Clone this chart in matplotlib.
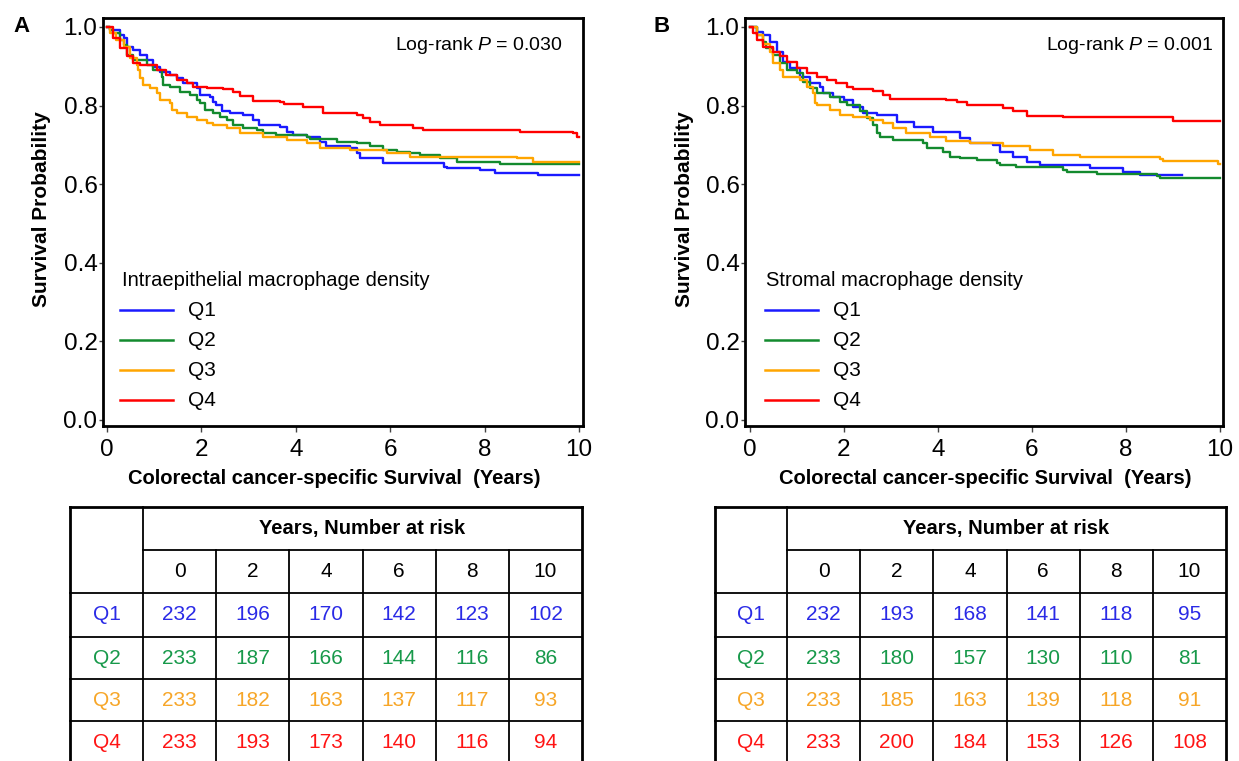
import matplotlib
matplotlib.use('Agg')
import matplotlib.pyplot as plt

plt.rcParams['font.family'] = ['Liberation Sans', 'DejaVu Sans']
plt.rcParams['mathtext.fontset'] = 'custom'
plt.rcParams['mathtext.rm'] = 'Liberation Sans'
plt.rcParams['mathtext.it'] = 'Liberation Sans:italic'

# ---------------- data ----------------
groups = ['Q1', 'Q2', 'Q3', 'Q4']
years = [0, 2, 4, 6, 8, 10]
yticks = [0.0, 0.2, 0.4, 0.6, 0.8, 1.0]

# Panel A: intraepithelial macrophage density (step times, survival)
tA_Q1 = [0, 0.06, 0.28, 0.35, 0.42, 0.56, 0.70, 0.84, 0.98, 1.12, 1.33, 1.48, 1.62, 1.90, 1.97, 2.18,
         2.25, 2.32, 2.43, 2.61, 2.89, 3.10, 3.21, 3.67, 3.81, 3.95, 4.23, 4.51, 4.65, 5.15, 5.29,
         5.36, 5.85, 7.13, 7.20, 7.90, 8.22, 9.14]
sA_Q1 = [1.0, 0.992, 0.980, 0.971, 0.950, 0.941, 0.929, 0.916, 0.899, 0.886, 0.878, 0.869, 0.857, 0.844,
         0.827, 0.823, 0.810, 0.802, 0.785, 0.780, 0.776, 0.763, 0.751, 0.746, 0.734, 0.725, 0.721,
         0.708, 0.696, 0.691, 0.679, 0.666, 0.653, 0.645, 0.640, 0.636, 0.628, 0.623]
tA_Q2 = [0, 0.06, 0.13, 0.28, 0.35, 0.42, 0.56, 0.84, 0.98, 1.16, 1.19, 1.33, 1.55, 1.76, 1.90, 1.97,
         2.08, 2.25, 2.39, 2.54, 2.68, 2.89, 3.17, 3.31, 3.59, 4.23, 4.30, 4.87, 5.29, 5.57, 5.85,
         6.14, 6.42, 6.63, 7.06, 7.41, 8.33]
sA_Q2 = [1.0, 0.992, 0.984, 0.967, 0.954, 0.929, 0.916, 0.903, 0.891, 0.874, 0.852, 0.848, 0.835, 0.827,
         0.814, 0.806, 0.789, 0.780, 0.772, 0.763, 0.751, 0.742, 0.738, 0.729, 0.725, 0.721, 0.715,
         0.708, 0.704, 0.696, 0.687, 0.683, 0.679, 0.674, 0.666, 0.657, 0.651]
tA_Q3 = [0, 0.06, 0.20, 0.35, 0.49, 0.63, 0.66, 0.70, 0.77, 0.91, 1.05, 1.12, 1.33, 1.37, 1.48, 1.69,
         1.90, 2.11, 2.25, 2.54, 2.82, 3.31, 3.81, 4.23, 4.51, 5.15, 5.93, 6.42, 8.68, 9.03]
sA_Q3 = [1.0, 0.984, 0.967, 0.950, 0.920, 0.903, 0.891, 0.869, 0.852, 0.844, 0.831, 0.814, 0.806, 0.789,
         0.780, 0.772, 0.763, 0.755, 0.751, 0.742, 0.729, 0.721, 0.712, 0.704, 0.691, 0.687, 0.679,
         0.670, 0.666, 0.657]
tA_Q4 = [0, 0.13, 0.28, 0.42, 0.56, 0.70, 1.05, 1.26, 1.48, 1.69, 1.83, 2.11, 2.46, 2.68, 2.82, 3.10,
         3.67, 3.74, 4.16, 4.58, 5.29, 5.43, 5.57, 5.78, 6.49, 6.70, 8.75, 9.88, 9.95]
sA_Q4 = [1.0, 0.971, 0.946, 0.925, 0.908, 0.903, 0.891, 0.878, 0.865, 0.857, 0.848, 0.846, 0.842, 0.835,
         0.824, 0.812, 0.810, 0.803, 0.797, 0.780, 0.776, 0.768, 0.757, 0.751, 0.742, 0.738, 0.734,
         0.729, 0.721]
endA = [10.0, 10.0, 10.0, 10.0]

# Panel B: stromal macrophage density
tB_Q1 = [0, 0.14, 0.28, 0.43, 0.57, 0.71, 0.85, 1.06, 1.28, 1.49, 1.56, 1.77, 1.99, 2.20, 2.41, 2.70,
         3.12, 3.48, 3.90, 4.47, 4.68, 5.18, 5.32, 5.60, 5.89, 6.17, 7.23, 7.94, 8.30]
sB_Q1 = [1.0, 0.988, 0.980, 0.963, 0.937, 0.912, 0.895, 0.874, 0.857, 0.848, 0.831, 0.823, 0.814, 0.797,
         0.780, 0.776, 0.759, 0.746, 0.734, 0.717, 0.704, 0.700, 0.683, 0.670, 0.657, 0.649, 0.640,
         0.632, 0.623]
tB_Q2 = [0, 0.14, 0.28, 0.35, 0.50, 0.64, 0.78, 0.99, 1.13, 1.28, 1.42, 1.70, 1.91, 2.06, 2.34, 2.48,
         2.62, 2.70, 2.77, 3.05, 3.69, 3.76, 4.11, 4.26, 4.47, 4.82, 5.25, 5.32, 5.67, 6.67, 6.74,
         7.38, 8.65, 8.72]
sB_Q2 = [1.0, 0.980, 0.963, 0.946, 0.929, 0.908, 0.891, 0.882, 0.861, 0.844, 0.831, 0.823, 0.810, 0.802,
         0.785, 0.768, 0.751, 0.729, 0.721, 0.712, 0.704, 0.691, 0.683, 0.670, 0.666, 0.662, 0.653,
         0.649, 0.645, 0.636, 0.630, 0.625, 0.621, 0.617]
tB_Q3 = [0, 0.14, 0.28, 0.43, 0.50, 0.64, 0.71, 1.06, 1.21, 1.35, 1.38, 1.42, 1.70, 1.91, 2.20, 2.55,
         2.84, 3.05, 3.33, 3.83, 4.18, 4.68, 5.39, 5.96, 6.45, 7.02, 8.72, 8.79, 9.96]
sB_Q3 = [1.0, 0.980, 0.958, 0.937, 0.908, 0.891, 0.874, 0.865, 0.848, 0.831, 0.806, 0.802, 0.789, 0.776,
         0.772, 0.763, 0.755, 0.742, 0.729, 0.721, 0.710, 0.704, 0.696, 0.687, 0.674, 0.668, 0.664,
         0.659, 0.652]
tB_Q4 = [0, 0.07, 0.14, 0.28, 0.50, 0.64, 0.78, 0.99, 1.21, 1.42, 1.63, 1.84, 2.06, 2.20, 2.62, 2.84,
         2.98, 4.18, 4.40, 4.61, 5.39, 5.60, 5.89, 6.67, 9.01]
sB_Q4 = [1.0, 0.984, 0.967, 0.950, 0.937, 0.925, 0.912, 0.895, 0.882, 0.874, 0.865, 0.857, 0.848, 0.842,
         0.837, 0.827, 0.818, 0.814, 0.808, 0.801, 0.793, 0.785, 0.774, 0.770, 0.761]
endB = [9.2, 10.0, 10.0, 10.0]

riskA = {'Q1': [232, 196, 170, 142, 123, 102],
         'Q2': [233, 187, 166, 144, 116, 86],
         'Q3': [233, 182, 163, 137, 117, 93],
         'Q4': [233, 193, 173, 140, 116, 94]}
riskB = {'Q1': [232, 193, 168, 141, 118, 95],
         'Q2': [233, 180, 157, 130, 110, 81],
         'Q3': [233, 185, 163, 139, 118, 91],
         'Q4': [233, 200, 184, 153, 126, 108]}

line_colors = ['#1a1aff', '#138a2e', '#ffa500', '#ff0000']
text_colors = ['#2a2ae6', '#17994a', '#f7a628', '#ff1414']

# ---------------- figure ----------------
W, H = 1239, 761
fig = plt.figure(figsize=(W / 100, H / 100), dpi=100)


def px_rect(l, r, t, b):
    return [l / W, 1 - b / H, (r - l) / W, (b - t) / H]


def km_axes(rect, xlim, curves, ends):
    ax = fig.add_axes(rect)
    for (t, s), e, c in zip(curves, ends, line_colors):
        ax.step(list(t) + [e], list(s) + [s[-1]], where='post', color=c, lw=1.7, zorder=3)
    ax.set_xlim(*xlim)
    ax.set_ylim(-0.0153, 1.0229)
    ax.set_xticks(years)
    ax.set_yticks(yticks)
    ax.set_yticklabels(['%.1f' % v for v in yticks])
    for sp in ax.spines.values():
        sp.set_linewidth(2.0)
    ax.tick_params(axis='x', direction='out', length=4.5, width=1.0, labelsize=17.5, pad=5,
                   color='#444444')
    ax.tick_params(axis='y', direction='out', length=3, width=1.0, labelsize=17.5, pad=1,
                   color='#444444')
    return ax


axA = km_axes(px_rect(103, 583, 18, 426), (-0.0847, 10.085),
              [(tA_Q1, sA_Q1), (tA_Q2, sA_Q2), (tA_Q3, sA_Q3), (tA_Q4, sA_Q4)], endA)
axB = km_axes(px_rect(745, 1223, 18, 426), (-0.106, 10.064),
              [(tB_Q1, sB_Q1), (tB_Q2, sB_Q2), (tB_Q3, sB_Q3), (tB_Q4, sB_Q4)], endB)

# overlay in pixel coordinates for annotations and tables
ov = fig.add_axes([0, 0, 1, 1], zorder=5)
ov.set_xlim(0, W)
ov.set_ylim(H, 0)
ov.axis('off')
ov.patch.set_alpha(0)

# panel letters
ov.text(22, 27, 'A', fontsize=16, fontweight='bold', ha='center', va='center')
ov.text(662, 27, 'B', fontsize=16, fontweight='bold', ha='center', va='center')

# axis labels
for x in (42, 684):
    ov.text(x, 209, 'Survival Probability', fontsize=15, fontweight='bold', rotation=90,
            ha='center', va='center')
for x in (334, 985):
    ov.text(x, 479, 'Colorectal cancer-specific Survival  (Years)', fontsize=14.5,
            fontweight='bold', ha='center', va='center')

# log-rank
ov.text(563, 45, 'Log-rank $P$ = 0.030', fontsize=14, ha='right', va='center')
ov.text(1213, 45, 'Log-rank $P$ = 0.001', fontsize=14, ha='right', va='center')

# legends
def legend(x_title, x_line0, x_line1, x_lab, title):
    ov.text(x_title, 280, title, fontsize=14.5, ha='left', va='center')
    for i, (g, c) in enumerate(zip(groups, line_colors)):
        y = 310 + 30 * i
        ov.plot([x_line0, x_line1], [y, y], color=c, lw=1.8)
        ov.text(x_lab, y, g, fontsize=15, ha='left', va='center')


legend(122, 120, 173, 188, 'Intraepithelial macrophage density')
legend(766, 765, 818, 833, 'Stromal macrophage density')

# number-at-risk tables
rows_y = [507, 550, 593, 637, 679, 721, 764]


def table(left, div, right, risk):
    cols = [div + i * (right - div) / 6 for i in range(7)]
    top, bot = rows_y[0], rows_y[-1]
    kw_o = dict(color='black', lw=2.0, solid_capstyle='projecting', clip_on=False)
    kw_i = dict(color='black', lw=1.3, clip_on=False)
    ov.plot([left, right], [top, top], **kw_o)
    ov.plot([left, left], [top, bot], **kw_o)
    ov.plot([right, right], [top, bot], **kw_o)
    ov.plot([left, right], [bot, bot], **kw_o)
    ov.plot([div, div], [top, bot], **kw_i)
    ov.plot([div, right], [rows_y[1], rows_y[1]], **kw_i)
    for x in cols[1:-1]:
        ov.plot([x, x], [rows_y[1], bot], **kw_i)
    for y in rows_y[2:-1]:
        ov.plot([left, right], [y, y], **kw_i)
    ov.text((div + right) / 2, (rows_y[0] + rows_y[1]) / 2, 'Years, Number at risk',
            fontsize=14.5, fontweight='bold', ha='center', va='center')
    for j, yr in enumerate(years):
        ov.text((cols[j] + cols[j + 1]) / 2, (rows_y[1] + rows_y[2]) / 2, str(yr),
                fontsize=15, ha='center', va='center')
    for i, (g, c) in enumerate(zip(groups, text_colors)):
        yc = (rows_y[2 + i] + rows_y[3 + i]) / 2
        ov.text((left + div) / 2, yc, g, fontsize=15, color=c, ha='center', va='center')
        for j, n in enumerate(risk[g]):
            ov.text((cols[j] + cols[j + 1]) / 2, yc, str(n), fontsize=15, color=c,
                    ha='center', va='center')


table(70, 143, 582, riskA)
table(715, 787, 1226, riskB)

fig.savefig('out.png', dpi=100)
